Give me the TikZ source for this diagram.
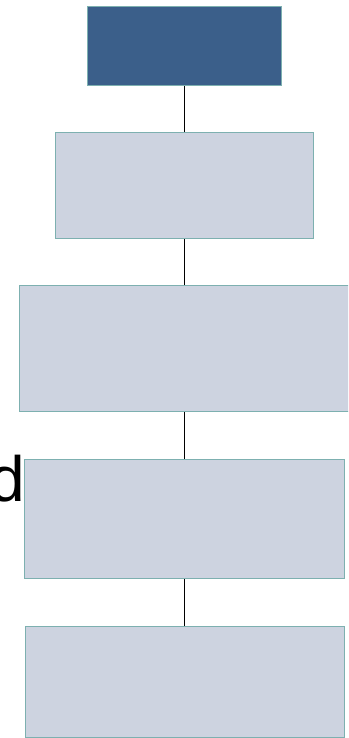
\documentclass[tikz,border=0pt]{standalone}
\usepackage{fontspec}
\setmainfont{Liberation Sans}
\definecolor{darkbox}{HTML}{3B5F8A}
\definecolor{lightbox}{HTML}{CDD3E0}
\definecolor{edgeteal}{HTML}{7DB0B0}
\tikzset{
  boxnode/.style={draw=edgeteal, line width=1pt, fill=lightbox, inner sep=0pt, anchor=north west},
  topnode/.style={boxnode, fill=darkbox},
  link/.style={draw=black, line width=0.8pt}
}
\begin{document}
\begin{tikzpicture}[x=1pt,y=-1pt]
\useasboundingbox (0,0) rectangle (348,738);
\clip (0,0) rectangle (348,738);
\node[topnode, minimum width=194pt, minimum height=79pt] (b1) at (87,6) {};
\node[boxnode, minimum width=258pt, minimum height=106pt] (b2) at (55,132) {};
\node[boxnode, minimum width=334pt, minimum height=126pt] (b3) at (19,285) {};
\node[boxnode, minimum width=320pt, minimum height=119pt] (b4) at (24,459) {};
\node[boxnode, minimum width=319pt, minimum height=111pt] (b5) at (25,626) {};
\node[anchor=south east, inner sep=0pt, font=\fontsize{64}{64}\selectfont] (t) at (25,502) {d};
\draw[link] (b1.south -| 184,0) -- (b2.north -| 184,0);
\draw[link] (b2.south -| 184,0) -- (b3.north -| 184,0);
\draw[link] (b3.south -| 184,0) -- (b4.north -| 184,0);
\draw[link] (b4.south -| 184,0) -- (b5.north -| 184,0);
\end{tikzpicture}
\end{document}
